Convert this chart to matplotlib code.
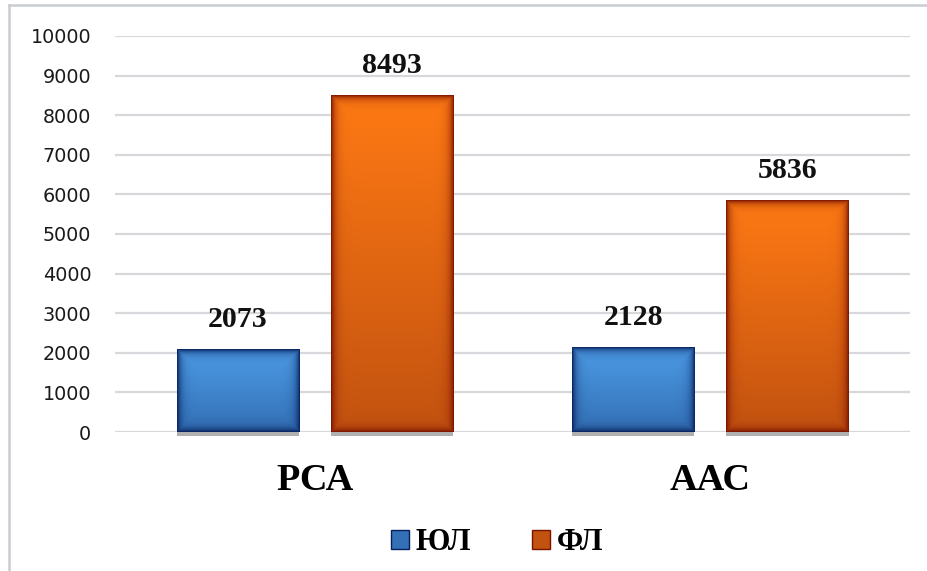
import matplotlib
matplotlib.use("Agg")
import matplotlib.pyplot as plt
import matplotlib.patheffects as pe
from matplotlib.lines import Line2D
from matplotlib.patches import Patch
import numpy as np

categories = ["РСА", "ААС"]
series_names = ["ЮЛ", "ФЛ"]
yul_values = [2073, 2128]
fl_values = [8493, 5836]
y_ticks = list(range(0, 10001, 1000))

BLUE_TOP = np.array([0x4d, 0x9c, 0xe6]) / 255
BLUE_BOT = np.array([0x33, 0x70, 0xb5]) / 255
BLUE_EDGE = np.array([0x06, 0x1f, 0x5c]) / 255
ORANGE_TOP = np.array([0xff, 0x7a, 0x14]) / 255
ORANGE_BOT = np.array([0xc2, 0x52, 0x10]) / 255
ORANGE_EDGE = np.array([0x7a, 0x12, 0x00]) / 255
GRID = "#d6d8db"
SERIF = ["Liberation Serif", "DejaVu Serif"]


def gradient_image(w_px, h_px, top, bot, edge, glow=4.0):
    w_px = max(int(w_px), 2)
    h_px = max(int(h_px), 2)
    t = np.linspace(0, 1, h_px)[:, None, None]
    base = top * (1 - t) + bot * t
    base = np.broadcast_to(base, (h_px, w_px, 3)).copy()
    xs = np.arange(w_px)
    ys = np.arange(h_px)
    dx = np.minimum(xs, w_px - 1 - xs)[None, :]
    dy = np.minimum(ys, h_px - 1 - ys)[:, None]
    d = np.minimum(dx, dy).astype(float)
    k = np.exp(-d / glow)[:, :, None] * 0.9
    return base * (1 - k) + edge * k


fig = plt.figure(figsize=(9.27, 5.71), dpi=100)
ax = fig.add_axes([0.124, 0.2434, 0.858, 0.6936])

x = np.arange(len(categories))
width = 0.31
offset = 0.195
shadow = [pe.SimplePatchShadow(offset=(0, -3), shadow_rgbFace="#8f8f8f", alpha=0.7), pe.Normal()]
bars_yul = ax.bar(x - offset, yul_values, width, color=BLUE_BOT, zorder=3,
                  clip_on=False, path_effects=shadow)
bars_fl = ax.bar(x + offset, fl_values, width, color=ORANGE_BOT, zorder=3,
                 clip_on=False, path_effects=shadow)

ax.set_xlim(-0.506, 1.506)
ax.set_ylim(0, 10000)
ax.set_yticks(y_ticks)
ax.set_xticks(x, categories)

for spine in ax.spines.values():
    spine.set_visible(False)
ax.yaxis.grid(True, color=GRID, linewidth=1.6)
ax.set_axisbelow(True)
ax.tick_params(axis="y", length=0, pad=17, labelsize=13.8, labelcolor="#1a1a1a")
ax.tick_params(axis="x", length=0, pad=22)
for lab in ax.get_xticklabels():
    lab.set_fontfamily(SERIF)
    lab.set_fontweight("bold")
    lab.set_fontsize(27.5)

for bars, top, bot, edge in ((bars_yul, BLUE_TOP, BLUE_BOT, BLUE_EDGE),
                             (bars_fl, ORANGE_TOP, ORANGE_BOT, ORANGE_EDGE)):
    for b in bars:
        bb = b.get_window_extent()
        img = gradient_image(bb.width, bb.height, top, bot, edge)
        x0, y0 = b.get_x(), b.get_y()
        ax.imshow(img, extent=[x0, x0 + b.get_width(), y0, y0 + b.get_height()],
                  aspect="auto", zorder=4, interpolation="bilinear", clip_on=False)
        ax.annotate(f"{int(b.get_height())}", (x0 + b.get_width() / 2, b.get_height()),
                    xytext=(0, 12), textcoords="offset points", ha="center", va="bottom",
                    fontsize=21.5, fontweight="bold", family=SERIF, color="#111111", zorder=5)

ax.set_xlim(-0.506, 1.506)
ax.set_ylim(0, 10000)

handles = [Patch(facecolor=BLUE_BOT, edgecolor=BLUE_EDGE, linewidth=1.0),
           Patch(facecolor=ORANGE_BOT, edgecolor=ORANGE_EDGE, linewidth=1.0)]
fig.legend(handles, series_names, loc="center", bbox_to_anchor=(497 / 927, 1 - 543 / 571),
           ncol=2, frameon=False, handlelength=0.6, handleheight=0.6, handletextpad=0.2,
           columnspacing=2.0, prop={"family": SERIF, "weight": "bold", "size": 22})

# outer frame of the chart box
fig.add_artist(Line2D([9 / 927, 9 / 927], [0, 1 - 5 / 571], color="#c9cdd2", linewidth=1.8))
fig.add_artist(Line2D([9 / 927, 1], [1 - 5 / 571, 1 - 5 / 571], color="#c9cdd2", linewidth=1.8))

fig.savefig("out.png", dpi=100, facecolor="white")
